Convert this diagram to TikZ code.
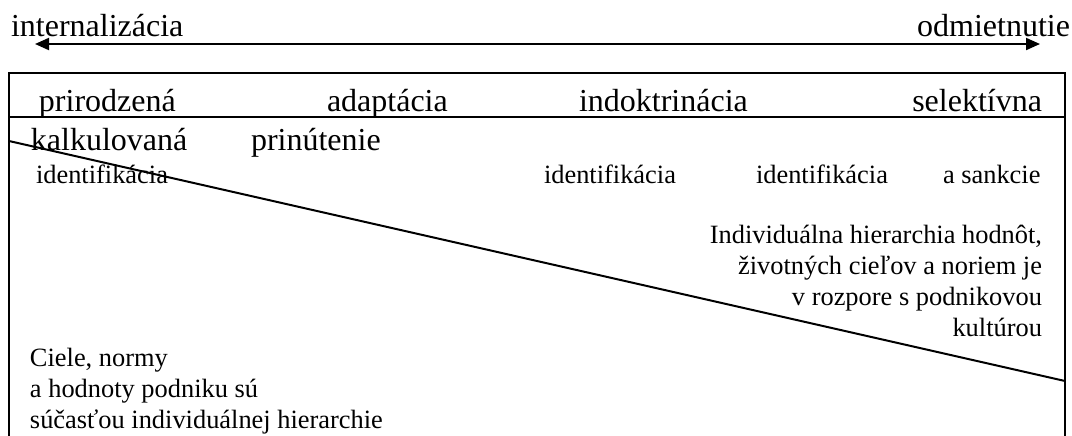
\documentclass[tikz,border=0pt]{standalone}
\usepackage{fontspec}
\setmainfont{Liberation Serif}
\usetikzlibrary{arrows.meta}
\begin{document}
\begin{tikzpicture}[x=0.5pt,y=-0.5pt,
  line width=1pt,
  big/.style={inner sep=0pt,font=\fontsize{16}{19}\selectfont},
  small/.style={inner sep=0pt,font=\fontsize{13.2}{15.5}\selectfont},
  tip/.style={-{Triangle[length=7pt,width=6pt]}}]
\useasboundingbox (0,0) rectangle (1072,435);

% scale labels and the two-headed arrow
\node[big,anchor=base west] (int) at (10,36) {internalizácia};
\node[big,anchor=base east] (odm) at (1071,36) {odmietnutie};
\coordinate (amid) at (537,44);
\coordinate (aleft) at (35,44);
\coordinate (aright) at (1040,44);
\draw[tip] (amid) -- (aleft);
\draw[tip] (amid) -- (aright);

% frame, header rule and dividing diagonal
\coordinate (bl) at (9,436);
\coordinate (tl) at (9,73);
\coordinate (tr) at (1065,73);
\coordinate (br) at (1065,436);
\draw (bl) -- (tl) -- (tr) -- (br);
\coordinate (hl) at (9,117);
\coordinate (hr) at (1065,117);
\draw (hl) -- (hr);
\coordinate (dl) at (9,141);
\coordinate (dr) at (1065,381);
\draw (dl) -- (dr);

% header row
\node[big,anchor=base west] (prir) at (38,111) {prirodzená};
\node[big,anchor=base west] (adap) at (326,111) {adaptácia};
\node[big,anchor=base west] (indo) at (578,111) {indoktrinácia};
\node[big,anchor=base east] (sele) at (1043,111) {selektívna};

% second row
\node[big,anchor=base west] (kalk) at (30,150) {kalkulovaná};
\node[big,anchor=base west] (prin) at (250,150) {prinútenie};

% third row
\node[small,anchor=base west] (id1) at (35,183) {identifikácia};
\node[small,anchor=base west] (id2) at (543,183) {identifikácia};
\node[small,anchor=base west] (id3) at (755,183) {identifikácia};
\node[small,anchor=base west] (sank) at (942,183) {a sankcie};

% upper-right statement
\node[small,anchor=base east] (r1) at (1043,243) {Individuálna hierarchia hodnôt,};
\node[small,anchor=base east] (r2) at (1043,274) {životných cieľov a noriem je};
\node[small,anchor=base east] (r3) at (1043,305) {v rozpore s podnikovou};
\node[small,anchor=base east] (r4) at (1043,336) {kultúrou};

% lower-left statement
\node[small,anchor=base west] (l1) at (29,366) {Ciele, normy};
\node[small,anchor=base west] (l2) at (29,397) {a hodnoty podniku sú};
\node[small,anchor=base west] (l3) at (29,428) {súčasťou individuálnej hierarchie};
\end{tikzpicture}
\end{document}
